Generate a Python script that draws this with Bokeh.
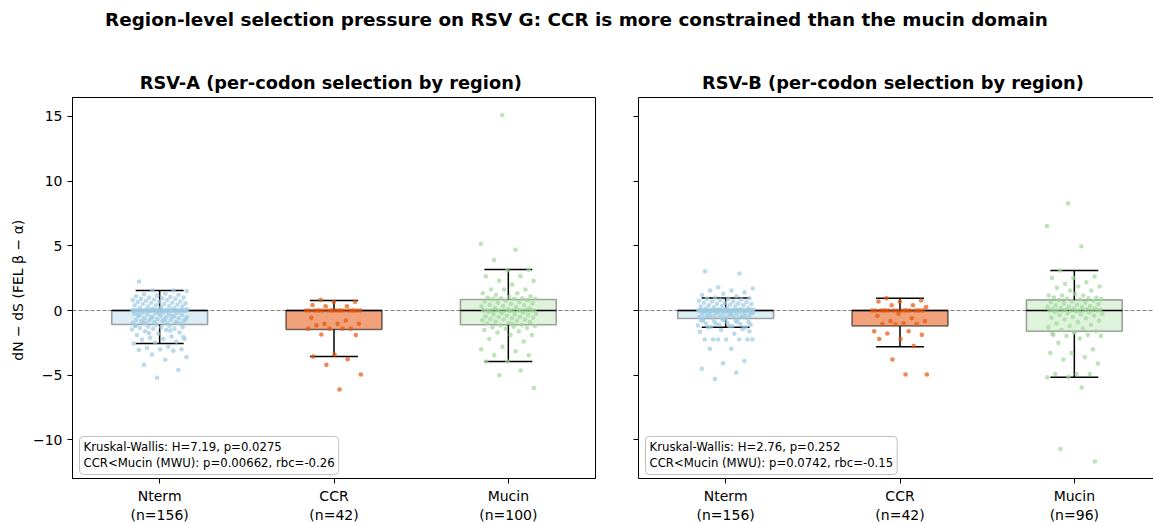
from bokeh.plotting import figure
from bokeh.models import Range1d, FixedTicker, Span, Label, Div, LinearAxis, ColumnDataSource
from bokeh.layouts import column, row
from bokeh.embed import file_html
from bokeh.resources import INLINE

# ---------------- data ----------------
categories = ["Nterm", "CCR", "Mucin"]
counts_a = [156, 42, 100]
counts_b = [156, 42, 96]
suptitle = "Region-level selection pressure on RSV G: CCR is more constrained than the mucin domain"
title_a = "RSV-A  (per-codon selection by region)"
title_b = "RSV-B  (per-codon selection by region)"
ylabel = "dN \u2212 dS  (FEL \u03b2 \u2212 \u03b1)"
stats_a = "Kruskal-Wallis: H=7.19, p=0.0275\nCCR<Mucin (MWU): p=0.00662, rbc=-0.26"
stats_b = "Kruskal-Wallis: H=2.76, p=0.252\nCCR<Mucin (MWU): p=0.0742, rbc=-0.15"
yticks = [-10, -5, 0, 5, 10, 15]

# box statistics (Q1, median, Q3, whisker low, whisker high)
a_q1 = [-1.08, -1.47, -1.10]
a_med = [0.0, 0.0, 0.0]
a_q3 = [0.0, 0.0, 0.85]
a_wlo = [-2.55, -3.55, -3.94]
a_whi = [1.55, 0.77, 3.17]

b_q1 = [-0.62, -1.20, -1.60]
b_med = [0.0, 0.0, 0.0]
b_q3 = [0.0, 0.0, 0.82]
b_wlo = [-1.30, -2.80, -5.15]
b_whi = [0.97, 0.95, 3.10]

# per-codon values
nterm_a = [
    2.24, 1.55, 1.55, 1.5, 1.3, 1.25, 1.2, 1.15, 1.1, 1.05,
    1.0, 1.0, 0.95, 0.9, 0.9, 0.85, 0.8, 0.8, 0.75, 0.7,
    0.7, 0.65, 0.6, 0.6, 0.55, 0.5, 0.5, 0.45, 0.4, 0.4,
    0.35, 0.3, 0.3, 0.25, 0.2, 0.2, 0.15, 0.1,
    0.0, 0.0, 0.0, 0.0, 0.0, 0.0, 0.0, 0.0, 0.0, 0.0,
    0.0, 0.0, 0.0, 0.0, 0.0, 0.0, 0.0, 0.0, 0.0, 0.0,
    0.0, 0.0, 0.0, 0.0, 0.0, 0.0, 0.0, 0.0, 0.0, 0.0,
    0.0, 0.0, 0.0, 0.0, 0.0, 0.0, 0.0, 0.0, 0.0, 0.0,
    0.0, 0.0,
    -0.1, -0.15, -0.2, -0.2, -0.25, -0.3, -0.3, -0.35, -0.4, -0.4,
    -0.45, -0.5, -0.5, -0.55, -0.6, -0.6, -0.65, -0.7, -0.7, -0.75,
    -0.8, -0.8, -0.85, -0.9, -0.9, -0.95, -1.0, -1.0, -1.05,
    -0.25, -0.35, -0.45, -0.55, -0.65, -0.75, -0.85, -0.95,
    -1.1, -1.15, -1.2, -1.25, -1.3, -1.3, -1.35, -1.4, -1.4, -1.45,
    -1.5, -1.6, -1.7, -1.8, -1.9, -2.0, -2.1, -2.2, -2.2, -2.25,
    -2.4, -2.5, -2.55, -2.8, -2.9, -3.0, -3.0, -3.05, -3.1, -3.4,
    -3.6, -3.8, -4.2, -4.6, -5.2, -1.2, -1.55, -1.75, -2.05,
]
ccr_a = [
    0.82, 0.67, 0.67, 0.43, 0.33, 0.33,
    0.0, 0.0, 0.0, 0.0, 0.0, 0.0, 0.0, 0.0, 0.0, 0.0,
    0.0, 0.0, 0.0, 0.0, 0.0, 0.0, 0.0, 0.0,
    -0.57, -0.77, -1.03, -1.03, -1.03, -1.15, -1.4, -1.4, -1.4, -1.4,
    -1.85, -1.9, -3.4, -3.55, -3.76, -4.2, -4.94, -6.1,
]
mucin_a = [
    15.1, 5.15, 4.7, 3.9, 3.14, 3.1, 2.65, 2.65, 2.3, 2.3,
    2.0, 1.62, 1.62, 1.62, 1.34, 1.34, 1.2, 1.1, 1.05, 1.0,
    0.95, 0.95, 0.9, 0.9, 0.88,
    0.8, 0.75, 0.7, 0.65, 0.6, 0.55, 0.5, 0.45, 0.4, 0.35,
    0.3, 0.25, 0.2, 0.15, 0.1,
    0.0, 0.0, 0.0, 0.0, 0.0, 0.0, 0.0, 0.0, 0.0, 0.0, 0.0, 0.0,
    -0.05, -0.1, -0.15, -0.2, -0.25, -0.3, -0.3, -0.35, -0.4, -0.45,
    -0.5, -0.5, -0.55, -0.6, -0.65, -0.7, -0.7, -0.75, -0.8, -0.85,
    -0.9, -0.95, -1.0,
    -1.1, -1.15, -1.2, -1.25, -1.3, -1.35, -1.4, -1.5, -1.6, -1.7,
    -1.9, -1.9, -2.2, -2.4, -2.8, -3.0, -3.15, -3.45, -3.45, -3.94,
    -3.94, -4.64, -5.0, -5.98, -1.05,
]
nterm_b = [
    3.04, 2.86, 1.8, 1.7, 1.55, 1.55, 1.4, 1.3, 1.2, 1.1,
    1.0, 0.95, 0.9, 0.9, 0.85, 0.8, 0.75, 0.7, 0.7, 0.65,
    0.6, 0.6, 0.55, 0.5, 0.5, 0.45, 0.4, 0.4, 0.35, 0.3,
    0.3, 0.25, 0.2, 0.2, 0.15, 0.1, 0.1, 0.05,
    0.0, 0.0, 0.0, 0.0, 0.0, 0.0, 0.0, 0.0, 0.0, 0.0,
    0.0, 0.0, 0.0, 0.0, 0.0, 0.0, 0.0, 0.0, 0.0, 0.0,
    0.0, 0.0, 0.0, 0.0, 0.0, 0.0, 0.0, 0.0, 0.0, 0.0,
    0.0, 0.0, 0.0, 0.0, 0.0, 0.0, 0.0, 0.0, 0.0, 0.0,
    0.0, 0.0, 0.0, 0.0, 0.0, 0.0, 0.0, 0.0, 0.0, 0.0,
    -0.05, -0.1, -0.1, -0.15, -0.15, -0.2, -0.2, -0.25, -0.25, -0.3,
    -0.3, -0.35, -0.35, -0.4, -0.4, -0.45, -0.45, -0.5, -0.5, -0.55,
    -0.55, -0.6, -0.6, -0.62, -0.1, -0.2, -0.3, -0.4, -0.5,
    -0.7, -0.75, -0.8, -0.85, -0.9, -0.95, -1.0, -1.05, -1.1, -1.15,
    -1.2, -1.25, -1.3, -0.7, -0.8, -0.9, -1.0, -1.1, -1.2, -1.3,
    -1.45, -1.5, -1.65, -1.8, -2.24, -2.24, -2.24, -2.24, -2.24, -2.24,
    -2.24, -2.96, -2.96, -3.9, -4.07, -4.5, -4.8, -5.3, -1.6,
]
ccr_b = [
    0.95, 0.77, 0.7, 0.7, 0.41, 0.41, 0.26,
    0.0, 0.0, 0.0, 0.0, 0.0, 0.0, 0.0, 0.0,
    0.0, 0.0, 0.0, 0.0, 0.0, 0.0, 0.0, 0.0,
    -0.25, -0.4, -0.6, -0.82, -0.82, -0.98, -1.05, -1.05, -1.05, -1.6,
    -1.6, -1.78, -1.88, -2.2, -2.2, -2.75, -3.79, -4.95, -4.95,
]
mucin_b = [
    8.29, 6.52, 4.97, 3.09, 2.63, 2.52, 2.52, 2.19, 2.06, 1.85,
    1.85, 1.75, 1.55, 1.55, 1.16, 1.16, 1.16, 0.98, 1.3, 1.0,
    0.95, 0.9, 0.88, 0.85,
    0.8, 0.75, 0.7, 0.65, 0.6, 0.55, 0.5, 0.45, 0.4, 0.35,
    0.3, 0.28, 0.25, 0.2, 0.18, 0.15, 0.12, 0.1, 0.08, 0.05,
    0.0, 0.0, 0.0, 0.0, 0.0, 0.0, 0.0, 0.0,
    -0.05, -0.1, -0.15, -0.2, -0.25, -0.3, -0.35, -0.4, -0.5, -0.55,
    -0.6, -0.7, -0.8, -0.9, -1.0, -1.1, -1.2, -1.3, -1.4, -1.5,
    -1.6, -1.7, -1.88, -1.88, -1.96, -1.96, -2.17, -2.5, -3.0, -3.29,
    -3.29, -3.6, -3.78, -4.1, -4.9, -4.9, -4.9, -5.15, -5.15, -5.95,
    -10.7, -11.67, -1.65, -1.8,
]

# ---------------- style ----------------
FONT = "DejaVu Sans"
colors = ["#9ecae1", "#e6550d", "#a1d99b"]
box_alpha = [0.35, 0.55, 0.35]
Y0, Y1 = -12.98, 16.46
UNIT = 523 / 3.0
FRAME_H = 381
TOP = 57
BOTTOM = 45


def jitter(n, phase):
    return [((k * 0.6180339887 + phase) % 1.0 - 0.5) * 0.32 for k in range(n)]


def make_panel(title, groups, counts, q1, med, q3, wlo, whi, stats, left_border, right_border,
               frame_w, first):
    xend = 0.5 + frame_w / UNIT
    p = figure(frame_width=frame_w, frame_height=FRAME_H,
               x_range=Range1d(0.5, xend), y_range=Range1d(Y0, Y1),
               output_backend="svg", toolbar_location=None,
               min_border_left=left_border, min_border_right=right_border,
               min_border_top=TOP, min_border_bottom=BOTTOM,
               title=title)
    p.outline_line_color = "black" if first else None
    p.outline_line_alpha = 1.0
    p.grid.visible = False
    p.background_fill_color = "white"
    p.border_fill_color = "white"
    p.title.align = "center"
    p.title.text_font = FONT
    p.title.text_font_size = "17.8px"
    p.title.text_font_style = "bold"
    p.title.text_color = "black"

    pos = [1, 2, 3]
    p.add_layout(Span(location=0, dimension="width", line_color="#808080",
                      line_dash="4 2", line_width=1, level="underlay"))

    src = ColumnDataSource(dict(x=pos, q1=q1, q3=q3, color=colors, alpha=box_alpha))
    p.vbar(x="x", top="q3", bottom="q1", width=0.55, source=src,
           fill_color="color", fill_alpha="alpha", line_color="black",
           line_alpha="alpha", line_width=1.6)
    p.segment(x0=pos, y0=q3, x1=pos, y1=whi, line_color="black", line_width=1.5)
    p.segment(x0=pos, y0=q1, x1=pos, y1=wlo, line_color="black", line_width=1.5)
    p.segment(x0=[x - 0.1375 for x in pos], y0=whi, x1=[x + 0.1375 for x in pos], y1=whi,
              line_color="black", line_width=1.5)
    p.segment(x0=[x - 0.1375 for x in pos], y0=wlo, x1=[x + 0.1375 for x in pos], y1=wlo,
              line_color="black", line_width=1.5)
    p.segment(x0=[x - 0.275 for x in pos], y0=med, x1=[x + 0.275 for x in pos], y1=med,
              line_color="black", line_width=1.6)

    for i, vals in enumerate(groups):
        xs = [pos[i] + d for d in jitter(len(vals), 0.13 * (i + 1))]
        p.scatter(x=xs, y=vals, size=4.6, fill_color=colors[i], line_color=None,
                  fill_alpha=0.7)

    # axes
    p.xaxis.ticker = FixedTicker(ticks=pos)
    p.xaxis.major_label_overrides = {pos[i]: f"{categories[i]}\n(n={counts[i]})" for i in range(3)}
    p.yaxis.ticker = FixedTicker(ticks=yticks)
    for ax in (p.xaxis[0], p.yaxis[0]):
        ax.axis_line_color = "black"
        ax.axis_line_width = 1
        ax.major_tick_out = 5
        ax.major_tick_in = 0
        ax.minor_tick_line_color = None
        ax.major_label_text_font = FONT
        ax.major_label_text_font_size = "14px"
        ax.major_label_text_color = "black"
        ax.major_tick_line_color = "black"
    p.xaxis.major_label_standoff = 4
    if first:
        p.yaxis.major_label_overrides = {t: (f"\u2212{abs(t)}" if t < 0 else str(t)) for t in yticks}
        p.yaxis.axis_label = ylabel
        p.yaxis.axis_label_text_font = FONT
        p.yaxis.axis_label_text_font_size = "14px"
        p.yaxis.axis_label_text_font_style = "normal"
        p.yaxis.axis_label_text_color = "black"
        p.yaxis.axis_label_standoff = 4
    else:
        p.yaxis.major_label_overrides = {t: "" for t in yticks}
        top_ax = LinearAxis(ticker=FixedTicker(ticks=[]), axis_line_color="black",
                            major_tick_line_color=None, minor_tick_line_color=None)
        p.add_layout(top_ax, "above")

    p.add_layout(Label(x=0.5 + 7 / UNIT, y=Y0 + 4 / (FRAME_H / (Y1 - Y0)), text=stats,
                       text_font=FONT, text_font_size="11.7px", text_color="black",
                       text_align="left", text_baseline="bottom", text_line_height=1.15,
                       background_fill_color="white", background_fill_alpha=0.8,
                       border_line_color="#c0c0c0", border_line_width=1,
                       padding=4, border_radius=4))
    return p


p1 = make_panel(title_a, [nterm_a, ccr_a, mucin_a], counts_a, a_q1, a_med, a_q3, a_wlo, a_whi,
                stats_a, 72, 10, 523, True)
p2 = make_panel(title_b, [nterm_b, ccr_b, mucin_b], counts_b, b_q1, b_med, b_q3, b_wlo, b_whi,
                stats_b, 33, 0, 515, False)

head = Div(text=f'<div style="font-family:\'DejaVu Sans\';font-weight:bold;font-size:18.4px;'
                f'text-align:center;width:1153px;line-height:40px;color:black;">{suptitle}</div>',
           width=1153, height=40, margin=(0, 0, 0, 0))

layout = column(head, row(p1, p2, spacing=0), spacing=0)
open("out.html", "w").write(file_html(layout, INLINE))
